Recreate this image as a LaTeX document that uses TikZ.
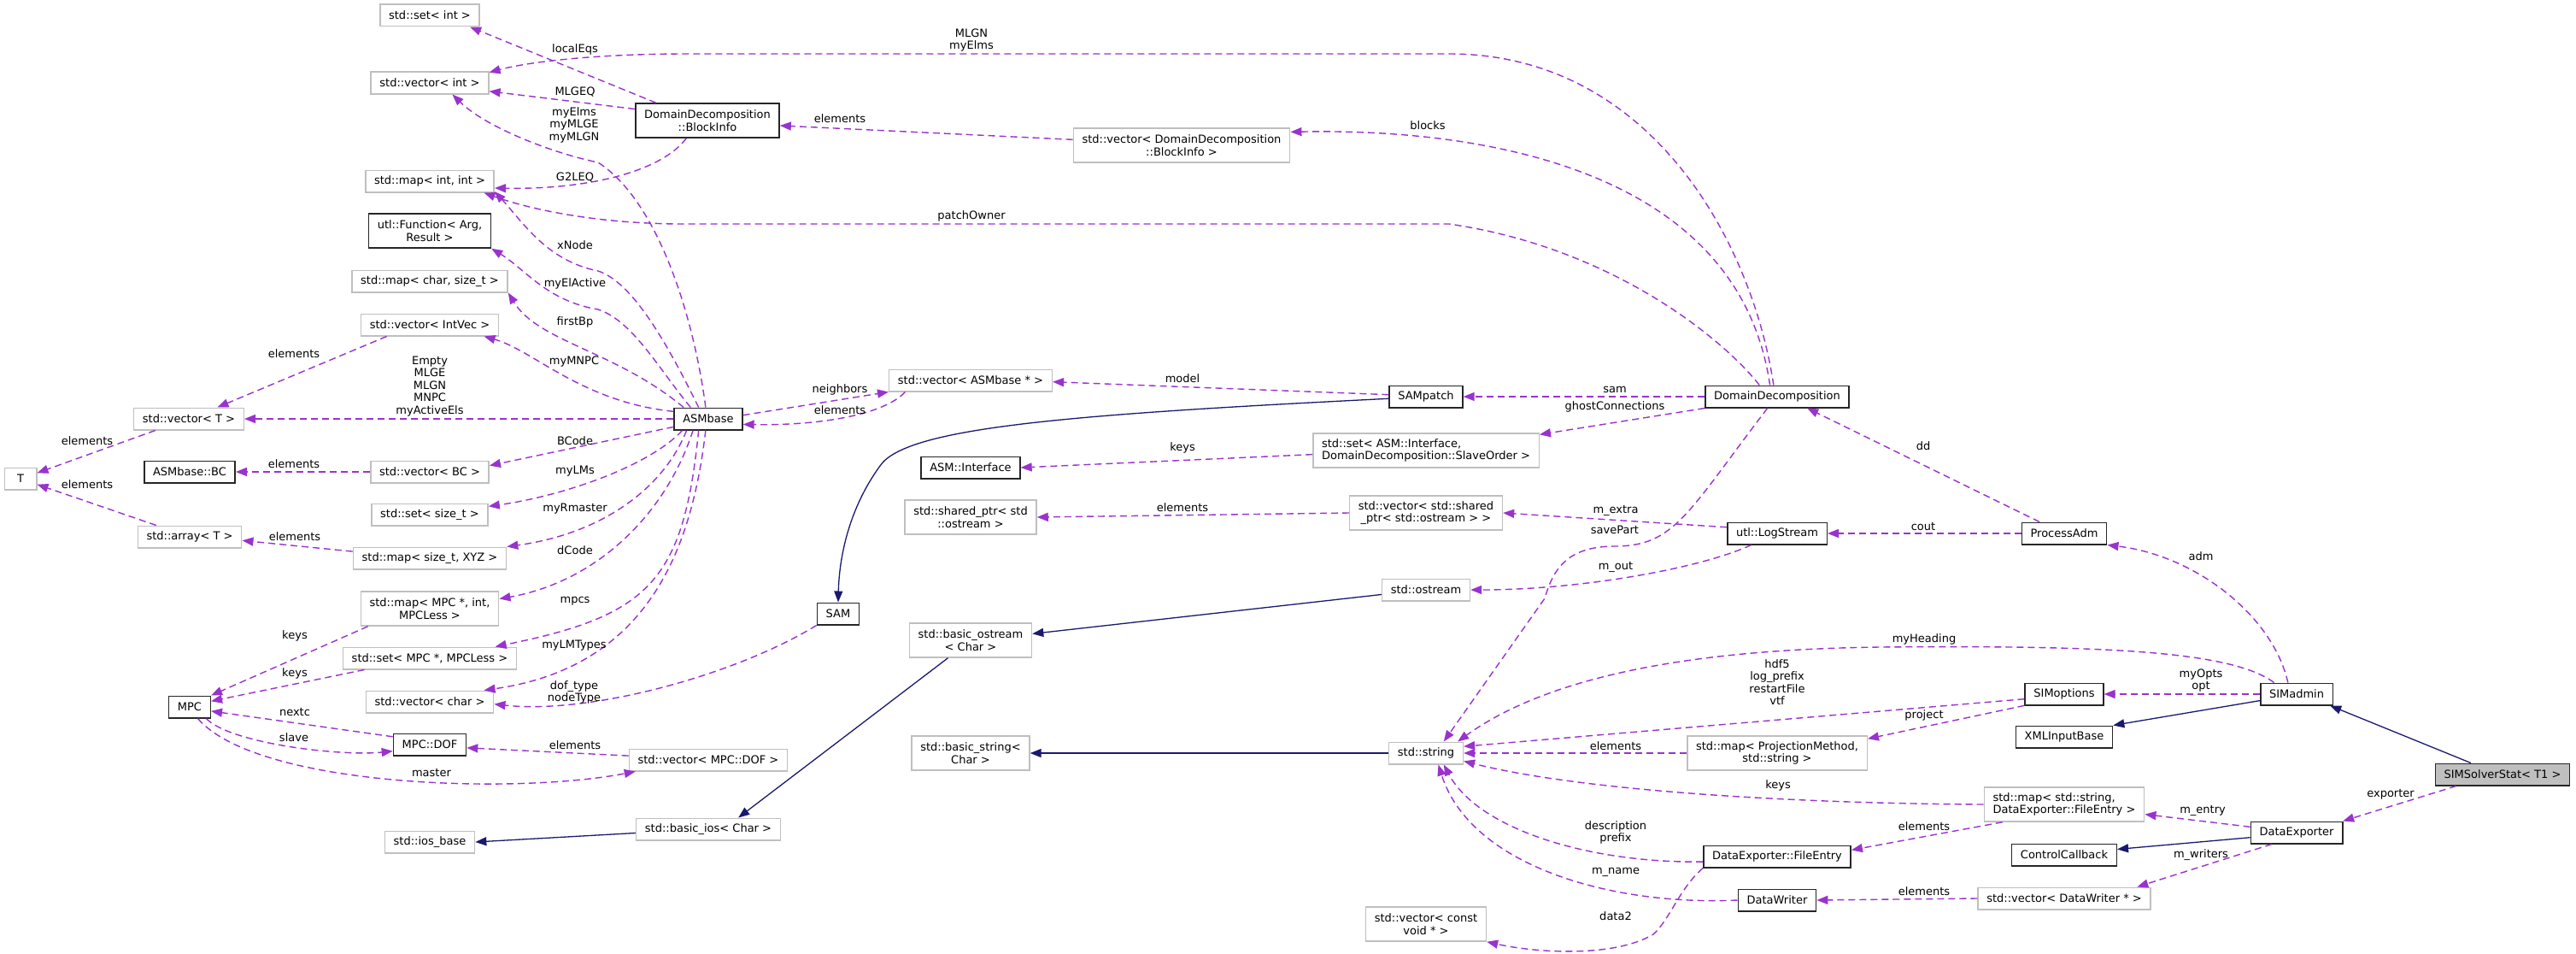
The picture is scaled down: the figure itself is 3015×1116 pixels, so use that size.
\documentclass[tikz,border=0pt]{standalone}
\usepackage{fontspec}
\setmainfont{DejaVu Sans}
\usetikzlibrary{arrows.meta}
\definecolor{mbrpurple}{HTML}{9A32CD}
\definecolor{inhblue}{HTML}{191970}
\definecolor{extgrey}{HTML}{BFBFBF}
\newcommand{\dxfont}{\fontsize{13}{14.5}\selectfont}
\begin{document}
\begin{tikzpicture}[x=1pt, y=-1pt,
  every node/.style={font=\dxfont},
  ext/.style={draw=extgrey, line width=1.5pt, fill=white, inner xsep=10.25pt, inner ysep=5.5pt, minimum height=25.5pt, align=center},
  cls/.style={ext, draw=black!85},
  focus/.style={cls, fill=extgrey},
  tall/.style={minimum height=40pt},
  mbr/.style={draw=mbrpurple, line width=1.4pt, dash pattern=on 8pt off 5pt, -{Triangle[length=13pt, width=10pt]}},
  inh/.style={draw=inhblue, line width=1.3pt, -{Triangle[length=13pt, width=10pt]}},
  lbl/.style={inner sep=0pt, align=center}]
  \path[use as bounding box, fill=white] (0,0) rectangle (3015,1116);

  \node[ext] (setInt) at (503,18) {std::set< int >};
  \node[ext] (vecInt) at (503,97) {std::vector< int >};
  \node[cls, tall] (blockInfo) at (828,141) {DomainDecomposition\\::BlockInfo};
  \node[ext] (mapIntInt) at (503,212) {std::map< int, int >};
  \node[cls, tall] (utlFunc) at (503,270) {utl::Function< Arg,\\Result >};
  \node[ext] (mapCharSize) at (503,329) {std::map< char, size\_t >};
  \node[ext] (vecIntVec) at (503,380) {std::vector< IntVec >};
  \node[ext] (vecT) at (221,490) {std::vector< T >};
  \node[cls] (asmBase) at (829,490) {ASMbase};
  \node[ext, minimum width=37.5pt] (T) at (24,560) {T};
  \node[cls] (asmBC) at (222,552) {ASMbase::BC};
  \node[ext] (vecBC) at (503,552) {std::vector< BC >};
  \node[ext] (setSize) at (503,602) {std::set< size\_t >};
  \node[ext] (arrT) at (222,628) {std::array< T >};
  \node[ext] (mapSizeXYZ) at (503,653) {std::map< size\_t, XYZ >};
  \node[ext, tall] (mapMPCint) at (503,712) {std::map< MPC *, int,\\MPCLess >};
  \node[ext] (setMPC) at (503,770) {std::set< MPC *, MPCLess >};
  \node[ext] (vecChar) at (503,821) {std::vector< char >};
  \node[cls] (MPC) at (222,827) {MPC};
  \node[cls] (mpcDOF) at (503,871) {MPC::DOF};
  \node[ext] (vecDOF) at (829,889) {std::vector< MPC::DOF >};
  \node[ext] (basicIos) at (829,970) {std::basic\_ios< Char >};
  \node[ext] (iosBase) at (503,985) {std::ios\_base};
  \node[ext, tall] (vecBlock) at (1383,170) {std::vector< DomainDecomposition\\::BlockInfo >};
  \node[ext] (vecASM) at (1136,445) {std::vector< ASMbase * >};
  \node[cls] (SAMpatch) at (1669,464) {SAMpatch};
  \node[ext, tall, align=left] (setIface) at (1669,527) {std::set< ASM::Interface,\\DomainDecomposition::SlaveOrder >};
  \node[cls] (asmIface) at (1136,547) {ASM::Interface};
  \node[ext, tall] (sharedPtr) at (1136,605) {std::shared\_ptr< std\\::ostream >};
  \node[ext, tall] (vecShared) at (1669,600) {std::vector< std::shared\\\_ptr< std::ostream > >};
  \node[ext] (ostream) at (1669,690) {std::ostream};
  \node[cls] (SAM) at (981,718) {SAM};
  \node[ext, tall] (basicOstream) at (1136,749) {std::basic\_ostream\\< Char >};
  \node[ext, tall] (basicString) at (1136,881) {std::basic\_string<\\Char >};
  \node[ext] (stdString) at (1669,881) {std::string};
  \node[ext, tall] (vecVoid) at (1669,1081) {std::vector< const\\void * >};
  \node[cls] (domDec) at (2080,464) {DomainDecomposition};
  \node[cls] (logStream) at (2080,624) {utl::LogStream};
  \node[cls] (procAdm) at (2416,624) {ProcessAdm};
  \node[cls] (simOpts) at (2416,812) {SIMoptions};
  \node[cls] (simAdmin) at (2688,812) {SIMadmin};
  \node[cls] (xmlInput) at (2416,862) {XMLInputBase};
  \node[ext, tall] (mapProj) at (2080,881) {std::map< ProjectionMethod,\\std::string >};
  \node[focus] (simSolver) at (2929,906) {SIMSolverStat< T1 >};
  \node[ext, tall, align=left] (mapFile) at (2416,941) {std::map< std::string,\\DataExporter::FileEntry >};
  \node[cls] (dataExp) at (2688,974) {DataExporter};
  \node[cls] (fileEntry) at (2080,1002) {DataExporter::FileEntry};
  \node[cls] (ctrlCb) at (2416,1000) {ControlCallback};
  \node[cls] (dataWriter) at (2080,1053) {DataWriter};
  \node[ext] (vecWriter) at (2416,1051) {std::vector< DataWriter * >};

  % BlockInfo and DomainDecomposition
  \draw[mbr] (blockInfo.161) -- (setInt.-16) node[lbl] (lLocalEqs) at (673,58) {localEqs};
  \draw[mbr] (blockInfo.171) -- (vecInt.-8) node[lbl] (lMLGEQ) at (673,108) {MLGEQ};
  \draw[mbr] (blockInfo.-140) .. controls (775,200) and (690,222) .. (mapIntInt.-6) node[lbl] (lG2LEQ) at (673,208) {G2LEQ};
  \draw[mbr] (vecBlock.177.3) -- (blockInfo.-4) node[lbl] (lElemBlock) at (983,139) {elements};
  \draw[mbr] (domDec.107) .. controls (2050,280) and (1930,63) .. (1696,63) -- (804,63) .. controls (700,63) and (620,72) .. (vecInt.10) node[lbl] (lMLGN) at (1137,47) {MLGN\\myElms};
  \draw[mbr] (domDec.122) .. controls (2035,200) and (1740,150) .. (vecBlock.7) node[lbl] (lBlocks) at (1671,147) {blocks};
  \draw[mbr] (domDec.147) .. controls (2020,400) and (1890,290) .. (1696,262) -- (800,262) .. controls (700,262) and (620,245) .. (mapIntInt.-12) node[lbl] (lPatchOwner) at (1137,253) {patchOwner};
  \draw[mbr] (domDec.west) -- (SAMpatch.east) node[lbl] (lSam) at (1890,456) {sam};
  \draw[mbr] (domDec.south west) -- (setIface.8.5) node[lbl] (lGhost) at (1890,476) {ghostConnections};
  \draw[mbr] (domDec.-130) .. controls (1975,600) and (1960,639) .. (1890,639) .. controls (1835,639) and (1818,665) .. (1808,700) -- (stdString.33) node[lbl] (lSavePart) at (1890,620) {savePart};
  \draw[mbr] (procAdm.155) -- (domDec.-21.5) node[lbl] (lDd) at (2251,522) {dd};
  \draw[mbr] (procAdm.west) -- (logStream.east) node[lbl] (lCout) at (2251,616) {cout};

  % SIMadmin, SIMoptions, SIMSolverStat
  \draw[mbr] (simAdmin.127.6) .. controls (2660,720) and (2570,650) .. (procAdm.south east) node[lbl] (lAdm) at (2576,651) {adm};
  \draw[mbr] (simAdmin.153) .. controls (2610,760) and (2450,755) .. (2200,757) .. controls (1950,760) and (1800,800) .. (stdString.20) node[lbl] (lMyHeading) at (2252,748) {myHeading};
  \draw[mbr] (simAdmin.west) -- (simOpts.east) node[lbl] (lMyOpts) at (2576,796) {myOpts\\opt};
  \draw[inh] (simAdmin.190.5) -- (xmlInput.north east);
  \draw[mbr] (simOpts.187) -- (stdString.10.7) node[lbl] (lHdf5) at (2080,798) {hdf5\\log\_prefix\\restartFile\\vtf};
  \draw[mbr] (simOpts.196) -- (mapProj.9) node[lbl] (lProject) at (2252,837) {project};
  \draw[mbr] (mapProj.west) -- (stdString.east) node[lbl] (lElemProj) at (1891,873) {elements};
  \draw[inh] (simSolver.160) -- (simAdmin.-19.4);
  \draw[mbr] (simSolver.194) -- (dataExp.14.6) node[lbl] (lExporter) at (2798,929) {exporter};

  % DataExporter
  \draw[mbr] (mapFile.west) .. controls (2100,940) and (1850,925) .. (stdString.-12) node[lbl] (lKeysFile) at (2081,919) {keys};
  \draw[mbr] (mapFile.196) -- (fileEntry.5.9) node[lbl] (lElemFile) at (2252,967) {elements};
  \draw[mbr] (fileEntry.184.6) .. controls (1860,1010) and (1730,970) .. (stdString.-33) node[lbl] (lDescr) at (1891,974) {description\\prefix};
  \draw[mbr] (fileEntry.south west) .. controls (1965,1040) and (1955,1075) .. (1935,1093) .. controls (1890,1120) and (1800,1115) .. (vecVoid.south east) node[lbl] (lData2) at (1891,1072) {data2};
  \draw[mbr] (dataWriter.west) .. controls (1880,1060) and (1720,1010) .. (stdString.-43) node[lbl] (lMName) at (1891,1020) {m\_name};
  \draw[mbr] (vecWriter.west) -- (dataWriter.east) node[lbl] (lElemWriter) at (2252,1043) {elements};
  \draw[mbr] (dataExp.173.6) -- (mapFile.-7.2) node[lbl] (lMEntry) at (2578,948) {m\_entry};
  \draw[inh] (dataExp.186.4) -- (ctrlCb.6.4);
  \draw[mbr] (dataExp.205) -- (vecWriter.9.7) node[lbl] (lMWriters) at (2576,1000) {m\_writers};

  % streams
  \draw[mbr] (logStream.173) -- (vecShared.east) node[lbl] (lMExtra) at (1891,597) {m\_extra};
  \draw[mbr] (logStream.204) .. controls (1990,665) and (1850,690) .. (ostream.east) node[lbl] (lMOut) at (1891,663) {m\_out};
  \draw[mbr] (vecShared.west) -- (sharedPtr.east) node[lbl] (lElemShared) at (1384,594) {elements};
  \draw[inh] (ostream.186.6) -- (basicOstream.6.3);
  \draw[inh] (basicOstream.-142.4) -- (basicIos.21.3);
  \draw[inh] (basicIos.183.3) -- (iosBase.east);
  \draw[inh] (stdString.west) -- (basicString.east);

  % SAMpatch
  \draw[mbr] (setIface.182) -- (asmIface.east) node[lbl] (lKeysIface) at (1384,524) {keys};
  \draw[mbr] (SAMpatch.177) -- (vecASM.-1.8) node[lbl] (lModel) at (1384,443) {model};
  \draw[inh] (SAMpatch.183) .. controls (1250,485) and (1060,500) .. (1030,545) .. controls (990,600) and (982,660) .. (SAM.north);
  \draw[mbr] (SAM.south west) .. controls (860,790) and (690,836) .. (vecChar.-2.3) node[lbl] (lDofType) at (672,810) {dof\_type\\nodeType};

  % ASMbase
  \draw[mbr] (asmBase.6.9) -- (vecASM.188.6) node[lbl] (lNeighbors) at (983,456) {neighbors};
  \draw[mbr] (vecASM.190.7) .. controls (1035,485) and (960,498) .. (asmBase.-9.6) node[lbl] (lElemASM) at (983,480) {elements};
  \draw[mbr] (asmBase.west) -- (vecT.east) node[lbl] (lEmpty) at (503,452) {Empty\\MLGE\\MLGN\\MNPC\\myActiveEls};
  \draw[mbr] (asmBase.168) .. controls (680,470) and (625,410) .. (vecIntVec.-12) node[lbl] (lMyMNPC) at (672,423) {myMNPC};
  \draw[mbr] (asmBase.155.8) .. controls (720,410) and (630,400) .. (mapCharSize.south east) node[lbl] (lFirstBp) at (673,377) {firstBp};
  \draw[mbr] (asmBase.147) .. controls (770,430) and (740,375) .. (700,362) .. controls (640,352) and (615,315) .. (utlFunc.south east) node[lbl] (lMyElActive) at (673,332) {myElActive};
  \draw[mbr] (asmBase.130) .. controls (780,400) and (740,330) .. (700,317) .. controls (640,305) and (612,260) .. (mapIntInt.-9.8) node[lbl] (lXNode) at (673,287) {xNode};
  \draw[mbr] (asmBase.103) .. controls (812,370) and (770,235) .. (700,190) .. controls (650,180) and (570,150) .. (vecInt.-27) node[lbl] (lMyElms) at (672,146) {myElms\\myMLGE\\myMLGN};
  \draw[mbr] (asmBase.193.5) -- (vecBC.6.6) node[lbl] (lBCode) at (673,516) {BCode};
  \draw[mbr] (vecBC.west) -- (asmBC.east) node[lbl] (lElemBC) at (344,543) {elements};
  \draw[mbr] (asmBase.204) .. controls (760,545) and (660,580) .. (setSize.8.2) node[lbl] (lMyLMs) at (673,551) {myLMs};
  \draw[mbr] (asmBase.208.4) .. controls (775,575) and (700,625) .. (mapSizeXYZ.north east) node[lbl] (lMyRmaster) at (673,595) {myRmaster};
  \draw[mbr] (asmBase.217.4) .. controls (780,600) and (700,680) .. (mapMPCint.8.4) node[lbl] (lDCode) at (673,644) {dCode};
  \draw[mbr] (asmBase.230) .. controls (800,680) and (760,720) .. (setMPC.10.4) node[lbl] (lMpcs) at (673,703) {mpcs};
  \draw[mbr] (asmBase.257) .. controls (810,640) and (760,780) .. (vecChar.12.6) node[lbl] (lMyLMTypes) at (672,755) {myLMTypes};

  % T, MPC
  \draw[mbr] (vecT.199.4) -- (T.19.3) node[lbl] (lElemVecT) at (102,516) {elements};
  \draw[mbr] (vecIntVec.195.5) -- (vecT.22) node[lbl] (lElemIntVec) at (344,414) {elements};
  \draw[mbr] (arrT.161.6) -- (T.-19.3) node[lbl] (lElemArrT) at (102,567) {elements};
  \draw[mbr] (mapSizeXYZ.175) -- (arrT.-4.7) node[lbl] (lElemXYZ) at (345,628) {elements};
  \draw[mbr] (mapMPCint.196) -- (MPC.north east) node[lbl] (lKeysMap) at (345,744) {keys};
  \draw[mbr] (setMPC.190.7) -- (MPC.15.4) node[lbl] (lKeysSet) at (345,788) {keys};
  \draw[mbr] (mpcDOF.168.3) -- (MPC.-11) node[lbl] (lNextc) at (345,833) {nextc};
  \draw[mbr] (MPC.-35) .. controls (270,870) and (400,885) .. (mpcDOF.190.4) node[lbl] (lSlave) at (344,863) {slave};
  \draw[mbr] (MPC.-55) .. controls (300,920) and (600,930) .. (vecDOF.189.2) node[lbl] (lMaster) at (505,904) {master};
  \draw[mbr] (vecDOF.177) -- (mpcDOF.-5.3) node[lbl] (lElemDOF) at (673,872) {elements};
\end{tikzpicture}
\end{document}
